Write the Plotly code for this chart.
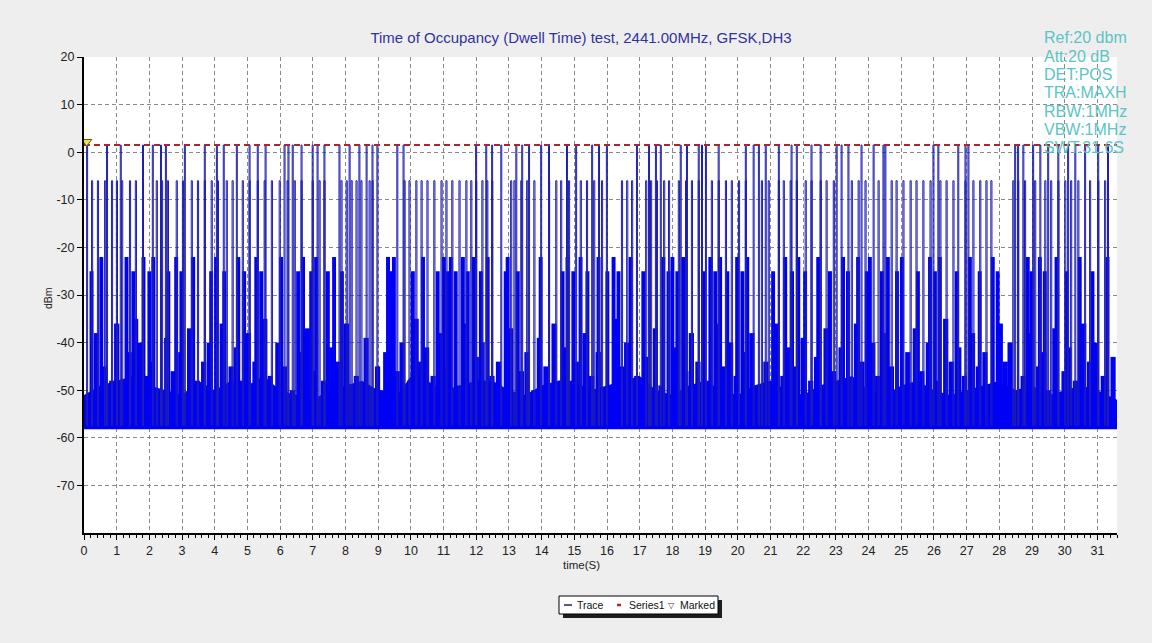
import plotly.graph_objects as go

# ---------------- data ----------------
# bursts reaching the top level (~1.5 dBm), time in seconds
peak_times = [0.08, 0.69, 1.11, 1.79, 2.09, 2.34, 2.49, 3.07, 3.68, 4.05, 4.26, 4.66, 5.05, 5.30,
              5.54, 6.12, 6.24, 6.37, 6.64, 6.98, 7.13, 7.34, 7.80, 8.11, 8.41, 8.63, 8.81, 8.96,
              9.57, 9.76, 11.98, 12.29, 12.47, 12.75, 13.21, 13.39, 13.60, 13.97, 14.21, 14.76,
              15.04, 15.53, 15.74, 15.98, 16.90, 17.27, 17.48, 17.63, 18.24, 18.43, 18.79, 18.89,
              19.01, 19.40, 20.23, 20.47, 20.63, 20.84, 21.24, 21.63, 21.79, 22.24, 22.52, 23.01,
              23.16, 23.37, 23.77, 24.14, 24.44, 24.50, 25.97, 26.12, 26.73, 26.95, 27.04, 28.47,
              28.56, 28.72, 29.02, 29.24, 29.48, 29.79, 30.09, 30.31, 30.61, 31.01, 31.31]
peak_level = 1.5

# bursts reaching about -6 dBm
high_times = [0.23, 0.41, 0.63, 0.84, 0.99, 1.15, 1.39, 1.57, 2.21, 2.37, 2.55, 2.82, 3.01, 3.28,
              3.47, 3.68, 3.89, 4.08, 4.35, 4.53, 4.84, 5.05, 5.30, 5.51, 5.73, 5.97, 6.21, 6.43,
              6.64, 6.98, 7.19, 7.34, 7.86, 8.02, 8.17, 8.32, 8.47, 8.72, 8.81, 9.79, 9.94, 10.15,
              10.31, 10.49, 10.70, 10.92, 11.07, 11.25, 11.47, 11.68, 11.83, 11.98, 12.17, 12.32,
              12.47, 13.05, 13.15, 13.36, 13.54, 13.76, 14.21, 14.43, 14.58, 14.82, 15.18, 15.37,
              15.59, 15.83, 16.44, 16.60, 16.75, 17.18, 17.33, 17.51, 17.73, 17.88, 18.18, 18.40,
              18.58, 18.79, 19.19, 19.40, 19.62, 19.80, 20.02, 20.23, 20.72, 20.93, 21.24, 21.39,
              21.60, 21.79, 22.06, 22.24, 22.52, 22.70, 22.92, 23.47, 23.68, 23.89, 24.29, 24.69,
              24.84, 25.05, 25.27, 25.45, 25.66, 25.88, 26.18, 26.37, 26.58, 26.95, 27.19, 27.40,
              27.59, 27.74, 28.41, 28.56, 28.77, 29.08, 29.39, 29.57, 29.79, 30.00, 30.18, 30.40,
              30.76, 31.01, 31.22]
high_level = -6.0

# bursts reaching the -22 .. -25 dBm region: (time s, level dBm)
mid_bursts = [(0.17, -25), (0.47, -22), (1.24, -22), (1.45, -25), (1.76, -22), (1.94, -25),
              (2.06, -22), (2.52, -25), (2.76, -22), (2.92, -25), (3.28, -22), (3.83, -25),
              (3.98, -22), (4.23, -25), (4.66, -22), (4.84, -25), (5.21, -22), (5.36, -25),
              (5.97, -22), (6.49, -25), (6.64, -22), (6.89, -25), (7.04, -22), (7.40, -25),
              (7.59, -22), (7.83, -25), (9.24, -22), (9.33, -25), (9.42, -22), (10.00, -25),
              (10.31, -22), (10.76, -25), (10.95, -22), (11.07, -25), (11.16, -22), (11.31, -25),
              (11.53, -22), (11.68, -25), (11.86, -22), (12.08, -25), (12.29, -22), (12.84, -25),
              (12.90, -22), (13.21, -25), (13.91, -22), (14.58, -25), (14.73, -22), (14.91, -25),
              (15.13, -22), (15.34, -25), (15.68, -22), (15.95, -25), (16.14, -22), (16.29, -25),
              (16.66, -22), (17.05, -25), (17.66, -22), (17.82, -25), (17.94, -22), (18.09, -25),
              (18.27, -22), (18.89, -25), (19.10, -22), (19.25, -25), (19.40, -22), (19.62, -25),
              (19.92, -22), (20.08, -25), (20.23, -22), (21.02, -25), (21.39, -22), (21.60, -25),
              (21.79, -22), (22.00, -25), (22.40, -22), (22.76, -25), (23.16, -22), (23.31, -25),
              (23.62, -22), (23.89, -25), (23.98, -22), (24.35, -25), (24.53, -22), (24.81, -25),
              (24.96, -22), (25.45, -25), (25.82, -22), (25.97, -25), (26.12, -22), (26.64, -25),
              (27.04, -22), (27.34, -25), (27.74, -22), (27.89, -25), (28.81, -22), (28.93, -25),
              (29.18, -22), (29.33, -25), (29.69, -22), (30.00, -25), (30.40, -22), (30.79, -25),
              (31.25, -22)]

# smaller bursts in the -35 .. -50 dBm region: (time s, level dBm)
low_bursts = [(0.30, -38), (0.55, -45), (0.77, -48), (0.92, -36), (1.30, -42), (1.50, -35),
              (1.65, -40), (1.85, -47), (2.00, -44), (2.28, -50), (2.45, -39), (2.65, -46),
              (2.88, -42), (3.15, -37), (3.38, -48), (3.58, -44), (3.75, -40), (3.93, -50),
              (4.15, -36), (4.42, -45), (4.58, -41), (4.75, -48), (4.95, -38), (5.15, -44),
              (5.45, -35), (5.62, -47), (5.85, -40), (6.05, -45), (6.30, -50), (6.55, -42),
              (6.75, -37), (6.93, -46), (7.25, -48), (7.50, -41), (7.70, -44), (7.95, -36),
              (8.25, -47), (8.55, -39), (8.90, -45), (9.05, -50), (9.15, -42), (9.35, -37),
              (9.50, -46), (9.65, -40), (9.88, -48), (10.08, -35), (10.22, -44), (10.40, -41),
              (10.60, -47), (10.83, -38), (11.00, -45), (11.40, -49), (11.60, -36), (11.92, -43),
              (12.10, -40), (12.40, -47), (12.60, -44), (12.97, -37), (13.30, -46), (13.47, -42),
              (13.68, -50), (13.85, -39), (14.05, -45), (14.30, -36), (14.50, -48), (14.67, -41),
              (14.98, -44), (15.25, -38), (15.45, -47), (15.65, -42), (15.90, -50), (16.20, -35),
              (16.38, -45), (16.52, -40), (16.83, -47), (17.10, -43), (17.40, -37), (17.57, -49),
              (18.00, -41), (18.33, -46), (18.50, -38), (18.70, -44), (19.05, -48), (19.32, -36),
              (19.50, -45), (19.70, -40), (19.87, -47), (20.15, -42), (20.35, -38), (20.55, -50),
              (20.78, -44), (21.10, -36), (21.30, -47), (21.50, -41), (21.70, -45), (21.92, -39),
              (22.15, -48), (22.33, -43), (22.62, -37), (22.85, -46), (23.08, -41), (23.25, -49),
              (23.55, -36), (23.72, -44), (24.05, -40), (24.20, -47), (24.40, -38), (24.62, -45),
              (24.75, -50), (25.12, -42), (25.35, -37), (25.55, -46), (25.75, -40), (26.05, -48),
              (26.28, -35), (26.45, -44), (26.68, -41), (26.85, -47), (27.10, -38), (27.28, -45),
              (27.48, -42), (27.65, -49), (27.95, -36), (28.10, -44), (28.25, -40), (28.65, -47),
              (28.88, -38), (29.12, -45), (29.28, -42), (29.42, -50), (29.62, -37), (29.90, -46),
              (30.05, -41), (30.25, -48), (30.50, -36), (30.68, -44), (30.88, -40), (31.10, -47),
              (31.40, -43)]

# dense noise band: top of the solid blue region, every 0.5 s
band_times = [0.0, 0.5, 1.0, 1.5, 2.0, 2.5, 3.0, 3.5, 4.0, 4.5, 5.0, 5.5, 6.0, 6.5, 7.0, 7.5,
              8.0, 8.5, 9.0, 9.5, 10.0, 10.5, 11.0, 11.5, 12.0, 12.5, 13.0, 13.5, 14.0, 14.5,
              15.0, 15.5, 16.0, 16.5, 17.0, 17.5, 18.0, 18.5, 19.0, 19.5, 20.0, 20.5, 21.0,
              21.5, 22.0, 22.5, 23.0, 23.5, 24.0, 24.5, 25.0, 25.5, 26.0, 26.5, 27.0, 27.5,
              28.0, 28.5, 29.0, 29.5, 30.0, 30.5, 31.0, 31.6]
band_top = [-51, -49, -48, -47, -49, -50, -51, -48, -50, -48, -49, -47, -50, -51, -52, -50,
            -49, -48, -50, -52, -47, -48, -50, -49, -48, -48, -50, -51, -49, -48, -48, -50,
            -49, -48, -47, -50, -51, -49, -48, -50, -51, -49, -48, -50, -51, -49, -48, -47,
            -50, -51, -49, -48, -50, -51, -50, -49, -48, -50, -49, -51, -50, -49, -50, -52]
noise_floor = -57.5
band_bottom = -58.2
x_end = 31.6

series1_level = 1.5
marked_time = [0.08]
marked_level = [2.2]

x_ticks = list(range(0, 32))
y_ticks = [-70, -60, -50, -40, -30, -20, -10, 0, 10, 20]
y_tick_text = ["-70", "-60", "-50", "-40", "-30", "-20", "-10", "0", "10", "20"]
info_lines = ["Ref:20 dbm", "Att:20 dB", "DET:POS", "TRA:MAXH", "RBW:1MHz", "VBW:1MHz", "SWT:31.6S"]


# ---------------- build trace ----------------
def burst_lines(items, width):
    xs, ys = [], []
    for t, l in items:
        xs += [t, t, t + width, t + width, None]
        ys += [noise_floor, l, l, noise_floor, None]
    return xs, ys


BLUE = "#0000F5"
LINE = "#1E1EB4"
FONT = "Liberation Sans, Arial, sans-serif"
fig = go.Figure()
# filled lower-level burst columns (bars from the noise floor up to the burst level)
for items, width in [(low_bursts, 0.16), (mid_bursts, 0.12)]:
    fig.add_trace(go.Bar(x=[t + width / 2 for t, _ in items],
                         y=[l - noise_floor for _, l in items],
                         width=width, base=noise_floor, name="Trace", showlegend=False,
                         marker=dict(color=BLUE, line=dict(width=0)), hoverinfo="skip"))
# solid noise band
fig.add_trace(go.Scatter(x=[0, x_end], y=[band_bottom, band_bottom], mode="lines",
                         line=dict(width=0, color=BLUE), showlegend=False, hoverinfo="skip"))
fig.add_trace(go.Scatter(x=band_times, y=band_top, mode="lines",
                         line=dict(width=0, color=BLUE), fill="tonexty",
                         fillcolor=BLUE, showlegend=False, hoverinfo="skip"))
# thin high-level bursts
for items, width in [([(t, high_level) for t in high_times], 0.035),
                     ([(t, peak_level) for t in peak_times], 0.03)]:
    bx, by = burst_lines(items, width)
    fig.add_trace(go.Scatter(x=bx, y=by, mode="lines", name="Trace", showlegend=False,
                             line=dict(color=LINE, width=1), hoverinfo="skip"))
fig.add_trace(go.Scatter(x=[0, x_end], y=[series1_level, series1_level], mode="lines",
                         name="Series1", showlegend=False,
                         line=dict(color="#A8282C", width=2, dash="6px,4px")))
fig.add_trace(go.Scatter(x=marked_time, y=marked_level, mode="markers", name="Marked",
                         showlegend=False,
                         marker=dict(symbol="triangle-down", size=9, color="#F2E24A",
                                     line=dict(color="#55552A", width=1))))

L, R, T, B = 84, 35, 57, 110
W, H = 1152, 643
pw, ph = W - L - R, H - T - B


def px(xpix):
    return (xpix - L) / pw


def py(ypix):
    return (H - B - ypix) / ph


annotations = []
for i, s in enumerate(info_lines):
    annotations.append(dict(text=s, xref="paper", yref="paper", x=px(1042), y=py(38 + i * 18.3),
                            xanchor="left", yanchor="middle", showarrow=False,
                            font=dict(family=FONT, size=16, color="#5CC4C4")))

# axis titles
annotations.append(dict(text="time(S)", xref="paper", yref="paper", x=px(581), y=py(565),
                        xanchor="center", yanchor="middle", showarrow=False,
                        font=dict(family=FONT, size=11.5, color="#222222")))
annotations.append(dict(text="dBm", xref="paper", yref="paper", x=px(48), y=py(298),
                        xanchor="center", yanchor="middle", showarrow=False, textangle=-90,
                        font=dict(family=FONT, size=10.5, color="#222222")))

# custom legend box (Trace / Series1 / Marked)
shapes = [
    dict(type="rect", xref="paper", yref="paper", x0=px(563), x1=px(722), y0=py(618),
         y1=py(600), fillcolor="#1E1E1E", line=dict(width=0), layer="above"),
    dict(type="rect", xref="paper", yref="paper", x0=px(559), x1=px(718), y0=py(614),
         y1=py(596), fillcolor="#FFFFFF", line=dict(color="#000000", width=1), layer="above"),
    dict(type="line", xref="paper", yref="paper", x0=px(564), x1=px(572), y0=py(605),
         y1=py(605), line=dict(color="#1E1E78", width=1.5), layer="above"),
    dict(type="line", xref="paper", yref="paper", x0=px(617), x1=px(621), y0=py(605),
         y1=py(605), line=dict(color="#C02020", width=2.5), layer="above"),
]
legend_items = [("Trace", 575), ("Series1", 627), ("Marked", 678)]
for txt, xl in legend_items:
    annotations.append(dict(text=txt, xref="paper", yref="paper", x=px(xl), y=py(605),
                            xanchor="left", yanchor="middle", showarrow=False,
                            font=dict(family=FONT, size=10.5, color="#111111")))
annotations.append(dict(text="\u25BD", xref="paper", yref="paper", x=px(671.5), y=py(605),
                        xanchor="center", yanchor="middle", showarrow=False,
                        font=dict(family="DejaVu Sans", size=8, color="#333333")))

fig.update_layout(
    width=W, height=H,
    margin=dict(l=L, r=R, t=T, b=B),
    paper_bgcolor="#EEEEEE", plot_bgcolor="#FFFFFF",
    font=dict(family=FONT, size=12, color="#222222"),
    title=dict(text="Time of Occupancy (Dwell Time) test, 2441.00MHz, GFSK,DH3",
               x=581 / W, xanchor="center", y=1 - 38 / H, yanchor="middle",
               font=dict(size=15, color="#32329C")),
    showlegend=False,
    barmode="overlay",
    annotations=annotations,
    shapes=shapes,
)
fig.update_xaxes(range=[0, x_end], tickvals=x_ticks, ticks="outside", ticklen=5,
                 tickcolor="#000000", showline=True, linecolor="#000000", linewidth=2,
                 showgrid=True, gridcolor="#8A8A8A", griddash="4px,3px", gridwidth=1,
                 zeroline=False,
                 minor=dict(dtick=0.2, ticks="outside", ticklen=3, tickcolor="#000000",
                            showgrid=False),
                 tickfont=dict(size=12.5, color="#222222"))
fig.update_yaxes(range=[-80, 20], tickvals=y_ticks, ticktext=y_tick_text, ticks="outside",
                 ticklen=5, tickcolor="#000000", showline=True, linecolor="#000000", linewidth=2,
                 showgrid=True, gridcolor="#8A8A8A", griddash="4px,3px", gridwidth=1,
                 zeroline=False, tickfont=dict(size=12.5, color="#222222"))

fig.write_html("out.html", config={"displayModeBar": False},
               post_script="document.body.style.margin='0px';")
